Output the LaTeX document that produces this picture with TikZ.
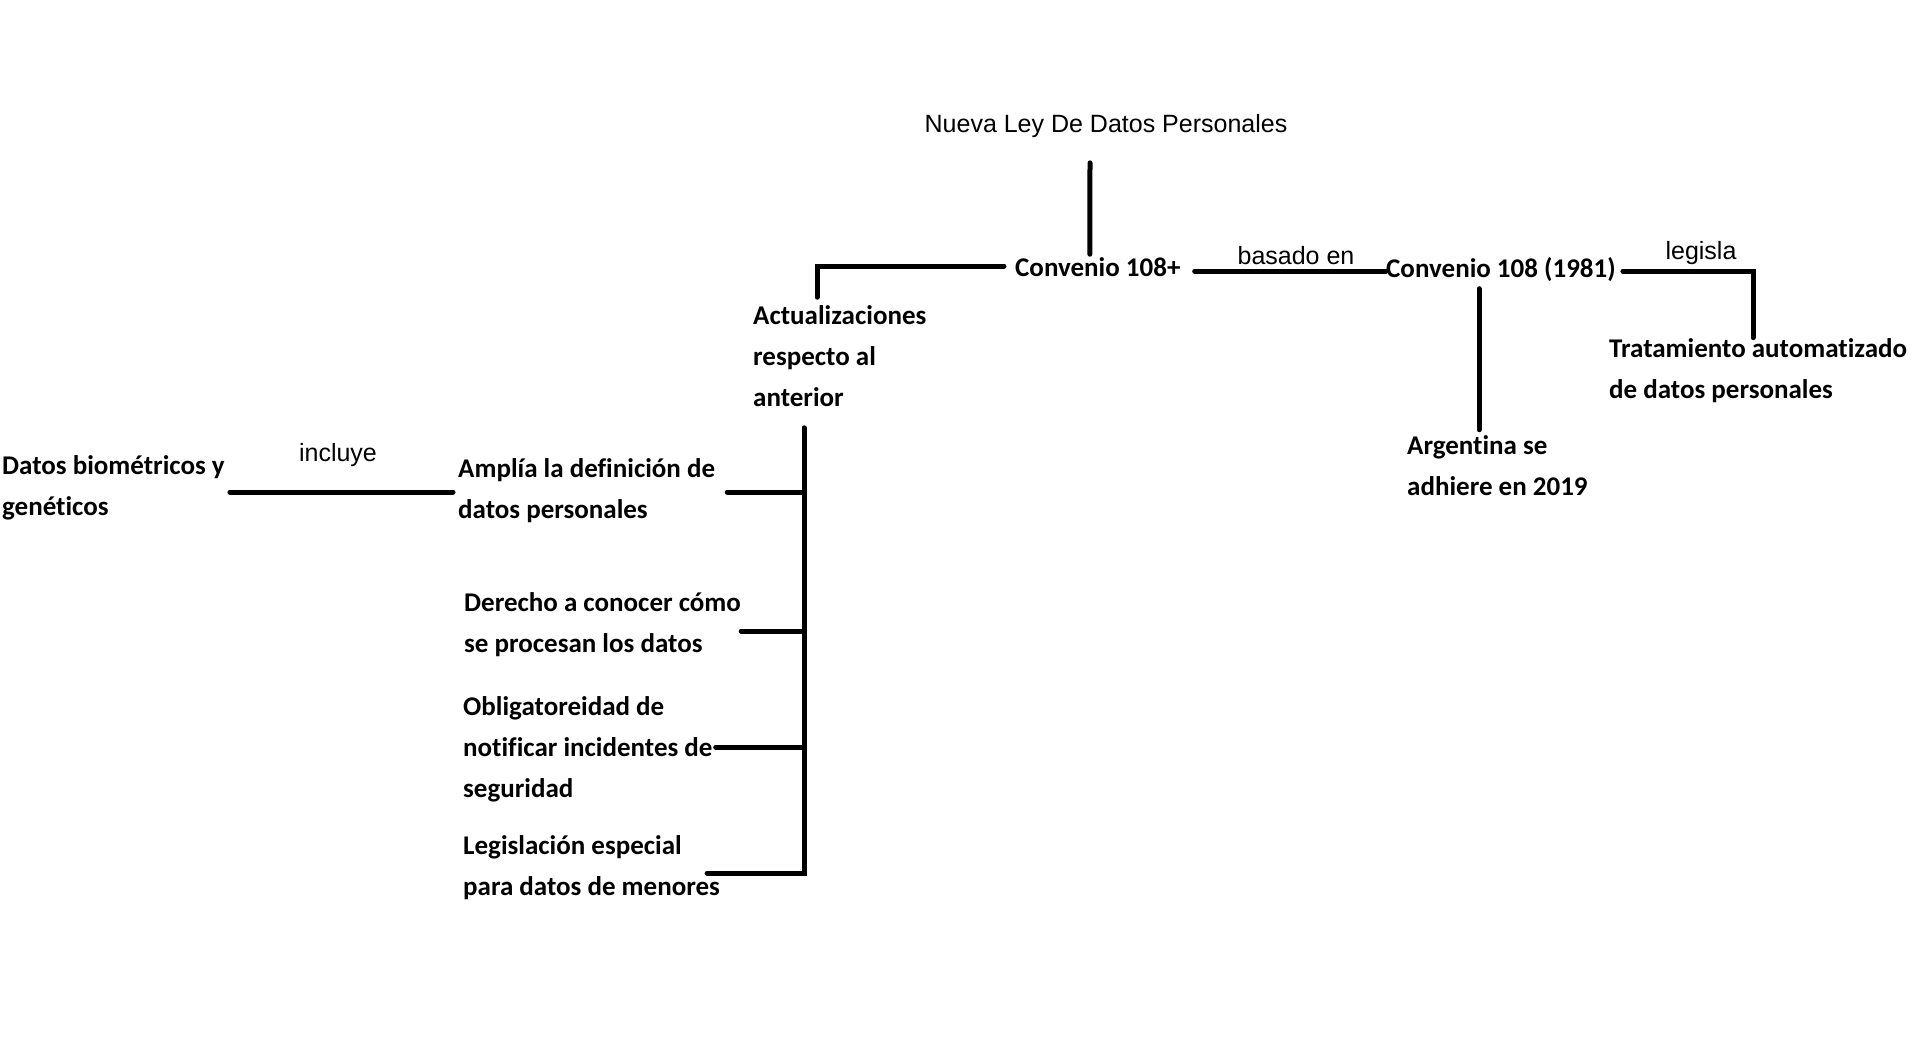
\documentclass[tikz,border=0pt]{standalone}
\usepackage{fontspec}
\newfontfamily\bodyfont[Ligatures={NoCommon,NoRare,NoDiscretionary}]{Carlito}
\newfontfamily\lblfont{Liberation Sans}
\usetikzlibrary{calc}
\tikzset{
  conn/.style={line width=5pt, line cap=round},
  item/.style={anchor=west, inner sep=0pt, align=left, font=\bodyfont\bfseries\fontsize{27}{41}\selectfont},
  lbl/.style={inner sep=0pt, font=\lblfont\fontsize{25}{30}\selectfont},
}
\begin{document}
\begin{tikzpicture}[x=1pt,y=1pt]
\fill[white] (0,0) rectangle (1920,-1044);
\useasboundingbox (0,0) rectangle (1920,-1044);

% nodes
\node[lbl] (title) at (1106,-126) {Nueva Ley De Datos Personales};
\node[item] (c108p) at (1015,-267) {Convenio 108+};
\node[item] (act) at (753,-356) {Actualizaciones\\respecto al\\anterior};
\node[item] (c108) at (1386,-270) {Convenio 108 (1981)};
\node[item] (trat) at (1609,-371) {Tratamiento automatizado\\de datos personales};
\node[item] (arg) at (1407,-466) {Argentina se\\adhiere en 2019};
\node[item] (ampl) at (458,-491) {Amplía la definición de\\datos personales};
\node[item] (datos) at (2,-488) {Datos biométricos y\\genéticos};
\node[item] (der) at (464,-625) {Derecho a conocer cómo\\se procesan los datos};
\node[item] (obl) at (463,-749) {Obligatoreidad de\\notificar incidentes de\\seguridad};
\node[item] (leg) at (463,-868) {Legislación especial\\para datos de menores};

\node[lbl] (lbas) at (1296,-256) {basado en};
\node[lbl] (lleg) at (1701,-253) {legisla};
\node[lbl] (linc) at (338,-455) {incluye};

% connectors
\draw[conn] ([xshift=-16pt,yshift=-25pt]title.south) -- ([xshift=-8pt,yshift=3pt]c108p.north);
\draw[conn] ([xshift=-11pt,yshift=1pt]c108p.west) -| ([xshift=64pt,yshift=8pt]act.north west);
\draw[conn] ([xshift=14pt,yshift=-4pt]c108p.east) -- ([yshift=-1pt]c108.west);
\draw[conn] ([xshift=7pt,yshift=-1pt]c108.east) -| ([xshift=144pt,yshift=1pt]trat.north west);
\draw[conn] ([xshift=72pt,yshift=147pt]arg.north west) -- ([xshift=72pt,yshift=6pt]arg.north west);

\coordinate (sp) at ([xshift=51pt,yshift=-21pt]act.south west);
\coordinate (b1) at ([xshift=12pt,yshift=-1pt]ampl.east);
\coordinate (b2) at ([xshift=0pt,yshift=-6pt]der.east);
\coordinate (b3) at ([xshift=3pt,yshift=2pt]obl.east);
\coordinate (b4) at ([xshift=-13pt,yshift=-5pt]leg.east);
\draw[conn] (sp) -- (sp |- b4) -- (b4);
\draw[conn] (b1) -- (b1 -| sp);
\draw[conn] (b2) -- (b2 -| sp);
\draw[conn] (b3) -- (b3 -| sp);

\draw[conn] ([xshift=5pt,yshift=-4pt]datos.east) -- ([xshift=-5pt,yshift=-1pt]ampl.west);
\end{tikzpicture}
\end{document}
